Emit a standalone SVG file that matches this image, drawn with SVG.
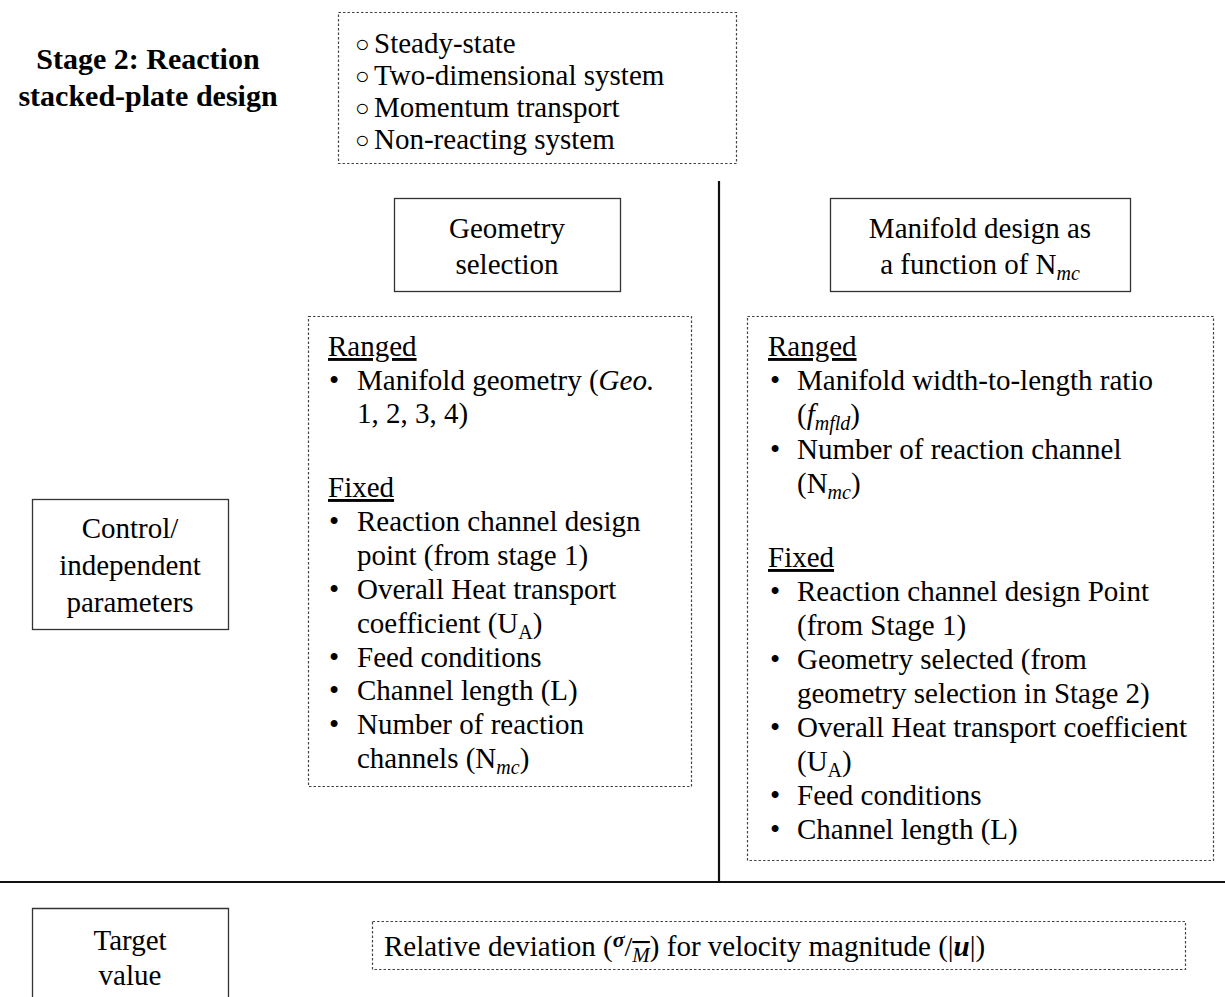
<svg xmlns="http://www.w3.org/2000/svg" width="1225" height="997" viewBox="0 0 1225 997">
<style>
text{font-family:"Liberation Serif","Times New Roman",serif;font-size:29px;fill:#000}
.title{font-weight:bold;font-size:30px}
.c{text-anchor:middle}
.solid{fill:#fff;stroke:#333;stroke-width:1.3}
.dash{fill:#fff;stroke:#444;stroke-width:1.2;stroke-dasharray:2.5 2}
.u{text-decoration:underline}
.sub{font-size:20px}
.m{font-style:italic}
.bul{font-size:24px}
.rule{stroke:#111;stroke-width:2.2;fill:none}
</style>
<rect width="1225" height="997" fill="#fff"/>
<g id="title">
<text class="title c" x="148" y="69">Stage 2: Reaction</text>
<text class="title c" x="148" y="106">stacked-plate design</text>
</g>
<g id="assumptions">
<rect class="dash" x="338.5" y="12.5" width="398" height="151"/>
<text class="bul" x="355" y="52">○</text><text x="374" y="53">Steady-state</text>
<text class="bul" x="355" y="84">○</text><text x="374" y="85">Two-dimensional system</text>
<text class="bul" x="355" y="116">○</text><text x="374" y="117">Momentum transport</text>
<text class="bul" x="355" y="148">○</text><text x="374" y="149">Non-reacting system</text>
</g>
<g id="connectors">
<line class="rule" x1="719" y1="181" x2="719" y2="882"/>
<line class="rule" x1="0" y1="882" x2="1225" y2="882"/>
</g>
<g id="geometry-selection">
<rect class="solid" x="394.5" y="198.5" width="226" height="93"/>
<text class="c" x="507" y="238">Geometry</text>
<text class="c" x="507" y="274">selection</text>
</g>
<g id="manifold-design">
<rect class="solid" x="830.5" y="198.5" width="300" height="93"/>
<text class="c" x="980" y="238">Manifold design as</text>
<text class="c" x="980" y="274">a function of N<tspan class="sub m" dy="6">mc</tspan></text>
</g>
<g id="control-params">
<rect class="solid" x="32.5" y="499.5" width="196" height="130"/>
<text class="c" x="130" y="538">Control/</text>
<text class="c" x="130" y="575">independent</text>
<text class="c" x="130" y="612">parameters</text>
</g>
<g id="geometry-params">
<rect class="dash" x="308.5" y="316.5" width="383" height="470"/>
<text class="u" x="328" y="356">Ranged</text>
<text x="329" y="390">•</text><text x="357" y="390">Manifold geometry (<tspan class="m">Geo.</tspan></text>
<text x="357" y="423">1, 2, 3, 4)</text>
<text class="u" x="328" y="497">Fixed</text>
<text x="329" y="531">•</text><text x="357" y="531">Reaction channel design</text>
<text x="357" y="565">point (from stage 1)</text>
<text x="329" y="599">•</text><text x="357" y="599">Overall Heat transport</text>
<text x="357" y="633">coefficient (U<tspan class="sub" dy="6">A</tspan><tspan dy="-6">)</tspan></text>
<text x="329" y="667">•</text><text x="357" y="667">Feed conditions</text>
<text x="329" y="700">•</text><text x="357" y="700">Channel length (L)</text>
<text x="329" y="734">•</text><text x="357" y="734">Number of reaction</text>
<text x="357" y="768">channels (N<tspan class="sub m" dy="6">mc</tspan><tspan dy="-6">)</tspan></text>
</g>
<g id="manifold-params">
<rect class="dash" x="747.5" y="316.5" width="466" height="544"/>
<text class="u" x="768" y="356">Ranged</text>
<text x="770" y="390">•</text><text x="797" y="390">Manifold width-to-length ratio</text>
<text x="797" y="424">(<tspan class="m">f</tspan><tspan class="sub m" dy="6">mfld</tspan><tspan dy="-6">)</tspan></text>
<text x="770" y="459">•</text><text x="797" y="459">Number of reaction channel</text>
<text x="797" y="493">(N<tspan class="sub m" dy="6">mc</tspan><tspan dy="-6">)</tspan></text>
<text class="u" x="768" y="567">Fixed</text>
<text x="770" y="601">•</text><text x="797" y="601">Reaction channel design Point</text>
<text x="797" y="635">(from Stage 1)</text>
<text x="770" y="669">•</text><text x="797" y="669">Geometry selected (from</text>
<text x="797" y="703">geometry selection in Stage 2)</text>
<text x="770" y="737">•</text><text x="797" y="737">Overall Heat transport coefficient</text>
<text x="797" y="771">(U<tspan class="sub" dy="6">A</tspan><tspan dy="-6">)</tspan></text>
<text x="770" y="805">•</text><text x="797" y="805">Feed conditions</text>
<text x="770" y="839">•</text><text x="797" y="839">Channel length (L)</text>
</g>
<g id="target-value">
<path class="solid" d="M32.5 997 V908.5 H228.5 V997" fill="none"/>
<text class="c" x="130" y="950">Target</text>
<text class="c" x="130" y="985">value</text>
</g>
<g id="relative-deviation">
<rect class="dash" x="372.5" y="921.5" width="813" height="48"/>
<text x="384" y="956">Relative deviation (<tspan class="m" font-weight="bold" font-size="22" dy="-9">σ</tspan><tspan font-size="28" dy="9">/</tspan><tspan class="m" font-size="21" dy="6" text-decoration="overline">M</tspan><tspan dy="-6">) for velocity magnitude (|</tspan><tspan class="m" font-weight="bold">u</tspan>|)</text>
</g>
</svg>
